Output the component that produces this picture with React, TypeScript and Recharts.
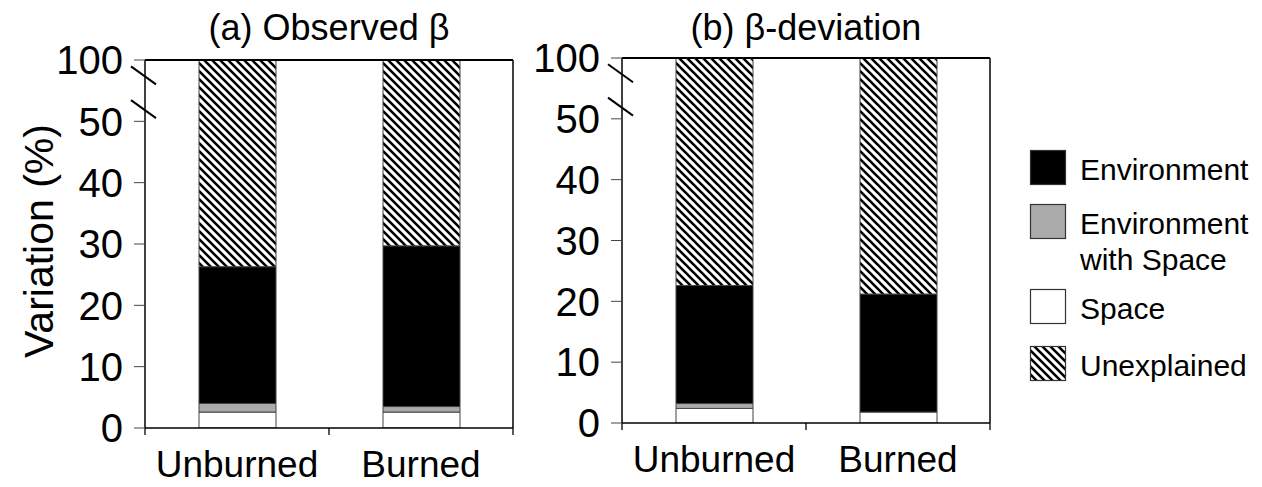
import React from "react";
import { BarChart, Bar, XAxis, YAxis, ReferenceLine } from "recharts";

// categories and values (percent of variation)
const categories = ["Unburned", "Burned"];

const observedSpace = [2.6, 2.6];
const observedEnvSpace = [1.4, 0.9];
const observedEnv = [22.3, 26.2];
const observedUnexplained = [73.7, 70.3];

const deviationSpace = [2.4, 1.8];
const deviationEnvSpace = [0.8, 0];
const deviationEnv = [19.4, 19.4];
const deviationUnexplained = [77.4, 78.8];

// axis is broken above 50: one tick step is used for 50..100
const yTicks = [0, 10, 20, 30, 40, 50, 60];
const yTickLabels = ["0", "10", "20", "30", "40", "50", "100"];

const FONT = '"Liberation Sans", Arial, Helvetica, sans-serif';

function broken(v: number): number {
  return v <= 50 ? v : 50 + (v - 50) / 5;
}

function buildRows(space: number[], envSpace: number[], env: number[], unexplained: number[]) {
  return categories.map((name, i) => {
    const explained = space[i] + envSpace[i] + env[i];
    const total = explained + unexplained[i];
    return {
      name,
      space: space[i],
      envSpace: envSpace[i],
      env: env[i],
      unexplained: broken(total) - broken(explained),
    };
  });
}

const observedRows = buildRows(observedSpace, observedEnvSpace, observedEnv, observedUnexplained);
const deviationRows = buildRows(deviationSpace, deviationEnvSpace, deviationEnv, deviationUnexplained);

const boundaryTick = (border: boolean) => (p: any) => {
  const x = p.x1;
  const top = Math.min(p.y1, p.y2);
  const bottom = Math.max(p.y1, p.y2);
  return (
    <g>
      {border && <line x1={x} x2={x} y1={top} y2={bottom} stroke="#000" strokeWidth={1.5} />}
      <line x1={x} x2={x} y1={bottom} y2={bottom + 7} stroke="#000" strokeWidth={1.3} />
    </g>
  );
};

const breakSlash = (p: any) => {
  const x = Math.min(p.x1, p.x2);
  const y = p.y1;
  return <line x1={x - 14} y1={y - 9} x2={x + 11} y2={y + 9} stroke="#000" strokeWidth={2} />;
};

interface PanelProps {
  id: string;
  rows: ReturnType<typeof buildRows>;
  left: number;
  plotTop: number;
  plotBottom: number;
}

function Panel({ id, rows, left, plotTop, plotBottom }: PanelProps) {
  const height = 487;
  return (
    <div style={{ position: "absolute", left, top: 0 }}>
      <BarChart
        width={530}
        height={height}
        data={rows}
        margin={{ top: plotTop, right: 17, bottom: 0, left: 0 }}
        barSize={77}
        style={{ fontFamily: FONT }}
      >
        <defs>
          <pattern id={`hatch-${id}`} patternUnits="userSpaceOnUse" width="8" height="8">
            <rect width="8" height="8" fill="#fff" />
            <path d="M-2,-2 L10,10 M-2,6 L2,10 M6,-2 L10,2" stroke="#000" strokeWidth="2.6" />
          </pattern>
        </defs>
        <XAxis
          dataKey="name"
          height={height - plotBottom}
          interval={0}
          tickLine={false}
          tickMargin={17}
          axisLine={{ stroke: "#000", strokeWidth: 1.5 }}
          tick={{ fontSize: 37, fill: "#000" }}
        />
        <YAxis
          type="number"
          domain={[0, 60]}
          ticks={yTicks}
          interval={0}
          allowDataOverflow
          width={145}
          tickSize={11}
          tickMargin={11}
          tickFormatter={(v: number) => yTickLabels[yTicks.indexOf(v)]}
          tickLine={{ stroke: "#444" }}
          axisLine={{ stroke: "#000", strokeWidth: 1.5 }}
          tick={{ fontSize: 40, fill: "#000" }}
        />
        <Bar dataKey="space" stackId="s" fill="#fff" stroke="#444" strokeWidth={1} isAnimationActive={false} />
        <Bar dataKey="envSpace" stackId="s" fill="#aaaaaa" stroke="#444" strokeWidth={1} isAnimationActive={false} />
        <Bar dataKey="env" stackId="s" fill="#000" stroke="#444" strokeWidth={1} isAnimationActive={false} />
        <Bar dataKey="unexplained" stackId="s" fill={`url(#hatch-${id})`} stroke="#444" strokeWidth={1} isAnimationActive={false} />
        <ReferenceLine y={60} stroke="#000" strokeWidth={1.8} />
        <ReferenceLine y={57.5} shape={breakSlash} />
        <ReferenceLine y={52} shape={breakSlash} />
        <ReferenceLine x="Unburned" position="start" shape={boundaryTick(false)} />
        <ReferenceLine x="Burned" position="start" shape={boundaryTick(false)} />
        <ReferenceLine x="Burned" position="end" shape={boundaryTick(true)} />
      </BarChart>
    </div>
  );
}

const legendItems = [
  { lines: ["Environment"], fill: "#000", top: 150 },
  { lines: ["Environment", "with Space"], fill: "#aaaaaa", top: 204 },
  { lines: ["Space"], fill: "#fff", top: 289 },
  { lines: ["Unexplained"], fill: "url(#hatch-legend)", top: 346 },
];

export default function App() {
  return (
    <div style={{ position: "absolute", left: 0, top: 0, width: 1262, height: 487, background: "#fff", fontFamily: FONT }}>
      <Panel id="a" rows={observedRows} left={0} plotTop={60} plotBottom={428} />
      <Panel id="b" rows={deviationRows} left={477} plotTop={58} plotBottom={423} />
      <svg width={1262} height={487} style={{ position: "absolute", left: 0, top: 0, pointerEvents: "none" }}>
        <defs>
          <pattern id="hatch-legend" patternUnits="userSpaceOnUse" width="8" height="8">
            <rect width="8" height="8" fill="#fff" />
            <path d="M-2,-2 L10,10 M-2,6 L2,10 M6,-2 L10,2" stroke="#000" strokeWidth="2.6" />
          </pattern>
        </defs>
        <text x={329} y={27} textAnchor="middle" dominantBaseline="central" fontSize={36} fontFamily={FONT}>
          (a) Observed β
        </text>
        <text x={806} y={27} textAnchor="middle" dominantBaseline="central" fontSize={36} fontFamily={FONT}>
          (b) β-deviation
        </text>
        <text
          x={39}
          y={241}
          textAnchor="middle"
          dominantBaseline="central"
          fontSize={41}
          fontFamily={FONT}
          transform="rotate(-90 39 241)"
        >
          Variation (%)
        </text>
        {legendItems.map((item) => (
          <g key={item.lines.join(" ")}>
            <rect x={1030.5} y={item.top + 0.5} width={35} height={34} fill={item.fill} stroke="#333" strokeWidth={1.2} />
            {item.lines.map((line, j) => (
              <text
                key={line}
                x={1080}
                y={item.top + 19 + j * 36}
                dominantBaseline="central"
                fontSize={30}
                fontFamily={FONT}
              >
                {line}
              </text>
            ))}
          </g>
        ))}
      </svg>
    </div>
  );
}
